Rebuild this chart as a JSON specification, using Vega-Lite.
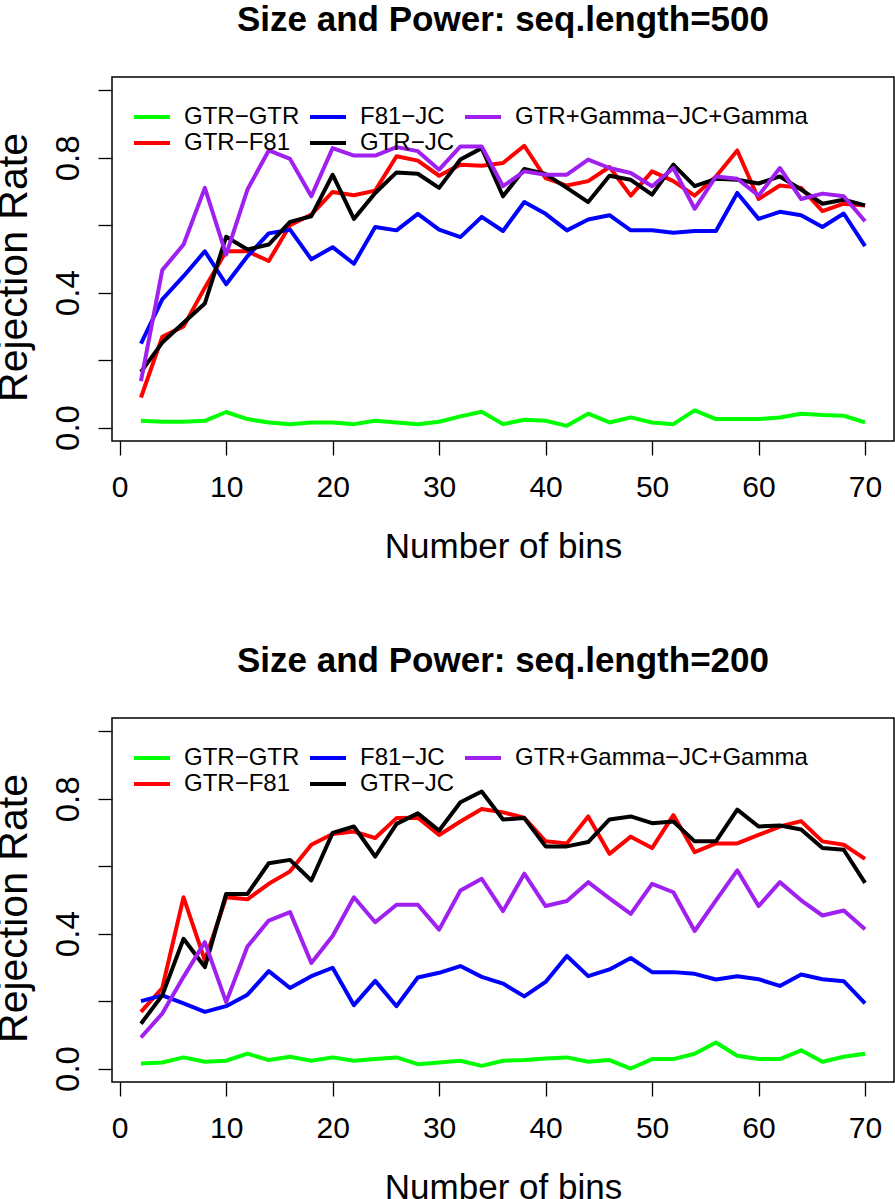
{
  "$schema": "https://vega.github.io/schema/vega-lite/v6.json",
  "padding": {"left": -8, "top": 2, "right": 0, "bottom": 0},
  "background": "white",
  "config": {
    "font": "Liberation Sans",
    "view": {"stroke": "#000", "strokeWidth": 1.5},
    "axis": {"domain": false, "grid": false, "ticks": true, "tickColor": "#000", "tickWidth": 1.3, "tickSize": 14, "labelColor": "#000", "titleColor": "#000", "labelFont": "Liberation Sans", "titleFont": "Liberation Sans", "titleFontWeight": "normal", "labelFlush": false, "labelOverlap": false},
    "legend": {"orient": "none", "legendX": 28, "legendY": 28, "columns": 3, "title": null, "symbolType": "M-2,0H2", "symbolSize": 324, "symbolStrokeWidth": 4, "labelFontSize": 24, "labelFont": "Liberation Sans", "labelColor": "#000", "labelOffset": 20, "columnPadding": 2, "rowPadding": 2, "padding": 0, "labelLimit": 0}
  },
  "datasets": {
    "s500": [
      {"bins":2,"model":"GTR−GTR","rate":0.02},{"bins":4,"model":"GTR−GTR","rate":0.017},{"bins":6,"model":"GTR−GTR","rate":0.017},{"bins":8,"model":"GTR−GTR","rate":0.02},{"bins":10,"model":"GTR−GTR","rate":0.046},{"bins":12,"model":"GTR−GTR","rate":0.025},{"bins":14,"model":"GTR−GTR","rate":0.015},{"bins":16,"model":"GTR−GTR","rate":0.01},{"bins":18,"model":"GTR−GTR","rate":0.015},{"bins":20,"model":"GTR−GTR","rate":0.015},{"bins":22,"model":"GTR−GTR","rate":0.01},{"bins":24,"model":"GTR−GTR","rate":0.02},{"bins":26,"model":"GTR−GTR","rate":0.015},{"bins":28,"model":"GTR−GTR","rate":0.01},{"bins":30,"model":"GTR−GTR","rate":0.017},{"bins":32,"model":"GTR−GTR","rate":0.033},{"bins":34,"model":"GTR−GTR","rate":0.047},{"bins":36,"model":"GTR−GTR","rate":0.01},{"bins":38,"model":"GTR−GTR","rate":0.023},{"bins":40,"model":"GTR−GTR","rate":0.02},{"bins":42,"model":"GTR−GTR","rate":0.005},{"bins":44,"model":"GTR−GTR","rate":0.041},{"bins":46,"model":"GTR−GTR","rate":0.015},{"bins":48,"model":"GTR−GTR","rate":0.03},{"bins":50,"model":"GTR−GTR","rate":0.015},{"bins":52,"model":"GTR−GTR","rate":0.01},{"bins":54,"model":"GTR−GTR","rate":0.051},{"bins":56,"model":"GTR−GTR","rate":0.025},{"bins":58,"model":"GTR−GTR","rate":0.025},{"bins":60,"model":"GTR−GTR","rate":0.025},{"bins":62,"model":"GTR−GTR","rate":0.03},{"bins":64,"model":"GTR−GTR","rate":0.041},{"bins":66,"model":"GTR−GTR","rate":0.037},{"bins":68,"model":"GTR−GTR","rate":0.035},{"bins":70,"model":"GTR−GTR","rate":0.015},
      {"bins":2,"model":"GTR−F81","rate":0.089},{"bins":4,"model":"GTR−F81","rate":0.269},{"bins":6,"model":"GTR−F81","rate":0.3},{"bins":8,"model":"GTR−F81","rate":0.415},{"bins":10,"model":"GTR−F81","rate":0.523},{"bins":12,"model":"GTR−F81","rate":0.523},{"bins":14,"model":"GTR−F81","rate":0.494},{"bins":16,"model":"GTR−F81","rate":0.6},{"bins":18,"model":"GTR−F81","rate":0.632},{"bins":20,"model":"GTR−F81","rate":0.699},{"bins":22,"model":"GTR−F81","rate":0.689},{"bins":24,"model":"GTR−F81","rate":0.703},{"bins":26,"model":"GTR−F81","rate":0.805},{"bins":28,"model":"GTR−F81","rate":0.792},{"bins":30,"model":"GTR−F81","rate":0.747},{"bins":32,"model":"GTR−F81","rate":0.78},{"bins":34,"model":"GTR−F81","rate":0.777},{"bins":36,"model":"GTR−F81","rate":0.785},{"bins":38,"model":"GTR−F81","rate":0.836},{"bins":40,"model":"GTR−F81","rate":0.74},{"bins":42,"model":"GTR−F81","rate":0.718},{"bins":44,"model":"GTR−F81","rate":0.731},{"bins":46,"model":"GTR−F81","rate":0.773},{"bins":48,"model":"GTR−F81","rate":0.688},{"bins":50,"model":"GTR−F81","rate":0.76},{"bins":52,"model":"GTR−F81","rate":0.731},{"bins":54,"model":"GTR−F81","rate":0.688},{"bins":56,"model":"GTR−F81","rate":0.745},{"bins":58,"model":"GTR−F81","rate":0.822},{"bins":60,"model":"GTR−F81","rate":0.678},{"bins":62,"model":"GTR−F81","rate":0.718},{"bins":64,"model":"GTR−F81","rate":0.711},{"bins":66,"model":"GTR−F81","rate":0.642},{"bins":68,"model":"GTR−F81","rate":0.664},{"bins":70,"model":"GTR−F81","rate":0.659},
      {"bins":2,"model":"F81−JC","rate":0.249},{"bins":4,"model":"F81−JC","rate":0.38},{"bins":6,"model":"F81−JC","rate":0.449},{"bins":8,"model":"F81−JC","rate":0.523},{"bins":10,"model":"F81−JC","rate":0.425},{"bins":12,"model":"F81−JC","rate":0.508},{"bins":14,"model":"F81−JC","rate":0.576},{"bins":16,"model":"F81−JC","rate":0.587},{"bins":18,"model":"F81−JC","rate":0.499},{"bins":20,"model":"F81−JC","rate":0.535},{"bins":22,"model":"F81−JC","rate":0.486},{"bins":24,"model":"F81−JC","rate":0.595},{"bins":26,"model":"F81−JC","rate":0.585},{"bins":28,"model":"F81−JC","rate":0.634},{"bins":30,"model":"F81−JC","rate":0.587},{"bins":32,"model":"F81−JC","rate":0.565},{"bins":34,"model":"F81−JC","rate":0.625},{"bins":36,"model":"F81−JC","rate":0.583},{"bins":38,"model":"F81−JC","rate":0.669},{"bins":40,"model":"F81−JC","rate":0.634},{"bins":42,"model":"F81−JC","rate":0.585},{"bins":44,"model":"F81−JC","rate":0.617},{"bins":46,"model":"F81−JC","rate":0.63},{"bins":48,"model":"F81−JC","rate":0.585},{"bins":50,"model":"F81−JC","rate":0.585},{"bins":52,"model":"F81−JC","rate":0.578},{"bins":54,"model":"F81−JC","rate":0.583},{"bins":56,"model":"F81−JC","rate":0.583},{"bins":58,"model":"F81−JC","rate":0.696},{"bins":60,"model":"F81−JC","rate":0.619},{"bins":62,"model":"F81−JC","rate":0.64},{"bins":64,"model":"F81−JC","rate":0.63},{"bins":66,"model":"F81−JC","rate":0.595},{"bins":68,"model":"F81−JC","rate":0.635},{"bins":70,"model":"F81−JC","rate":0.538},
      {"bins":2,"model":"GTR−JC","rate":0.165},{"bins":4,"model":"GTR−JC","rate":0.252},{"bins":6,"model":"GTR−JC","rate":0.311},{"bins":8,"model":"GTR−JC","rate":0.368},{"bins":10,"model":"GTR−JC","rate":0.566},{"bins":12,"model":"GTR−JC","rate":0.528},{"bins":14,"model":"GTR−JC","rate":0.543},{"bins":16,"model":"GTR−JC","rate":0.61},{"bins":18,"model":"GTR−JC","rate":0.627},{"bins":20,"model":"GTR−JC","rate":0.75},{"bins":22,"model":"GTR−JC","rate":0.619},{"bins":24,"model":"GTR−JC","rate":0.696},{"bins":26,"model":"GTR−JC","rate":0.757},{"bins":28,"model":"GTR−JC","rate":0.753},{"bins":30,"model":"GTR−JC","rate":0.711},{"bins":32,"model":"GTR−JC","rate":0.795},{"bins":34,"model":"GTR−JC","rate":0.829},{"bins":36,"model":"GTR−JC","rate":0.686},{"bins":38,"model":"GTR−JC","rate":0.767},{"bins":40,"model":"GTR−JC","rate":0.752},{"bins":42,"model":"GTR−JC","rate":0.711},{"bins":44,"model":"GTR−JC","rate":0.669},{"bins":46,"model":"GTR−JC","rate":0.747},{"bins":48,"model":"GTR−JC","rate":0.735},{"bins":50,"model":"GTR−JC","rate":0.691},{"bins":52,"model":"GTR−JC","rate":0.78},{"bins":54,"model":"GTR−JC","rate":0.716},{"bins":56,"model":"GTR−JC","rate":0.738},{"bins":58,"model":"GTR−JC","rate":0.735},{"bins":60,"model":"GTR−JC","rate":0.724},{"bins":62,"model":"GTR−JC","rate":0.745},{"bins":64,"model":"GTR−JC","rate":0.706},{"bins":66,"model":"GTR−JC","rate":0.664},{"bins":68,"model":"GTR−JC","rate":0.676},{"bins":70,"model":"GTR−JC","rate":0.659},
      {"bins":2,"model":"GTR+Gamma−JC+Gamma","rate":0.138},{"bins":4,"model":"GTR+Gamma−JC+Gamma","rate":0.467},{"bins":6,"model":"GTR+Gamma−JC+Gamma","rate":0.543},{"bins":8,"model":"GTR+Gamma−JC+Gamma","rate":0.711},{"bins":10,"model":"GTR+Gamma−JC+Gamma","rate":0.513},{"bins":12,"model":"GTR+Gamma−JC+Gamma","rate":0.706},{"bins":14,"model":"GTR+Gamma−JC+Gamma","rate":0.822},{"bins":16,"model":"GTR+Gamma−JC+Gamma","rate":0.797},{"bins":18,"model":"GTR+Gamma−JC+Gamma","rate":0.686},{"bins":20,"model":"GTR+Gamma−JC+Gamma","rate":0.829},{"bins":22,"model":"GTR+Gamma−JC+Gamma","rate":0.807},{"bins":24,"model":"GTR+Gamma−JC+Gamma","rate":0.807},{"bins":26,"model":"GTR+Gamma−JC+Gamma","rate":0.832},{"bins":28,"model":"GTR+Gamma−JC+Gamma","rate":0.82},{"bins":30,"model":"GTR+Gamma−JC+Gamma","rate":0.765},{"bins":32,"model":"GTR+Gamma−JC+Gamma","rate":0.834},{"bins":34,"model":"GTR+Gamma−JC+Gamma","rate":0.834},{"bins":36,"model":"GTR+Gamma−JC+Gamma","rate":0.716},{"bins":38,"model":"GTR+Gamma−JC+Gamma","rate":0.76},{"bins":40,"model":"GTR+Gamma−JC+Gamma","rate":0.75},{"bins":42,"model":"GTR+Gamma−JC+Gamma","rate":0.75},{"bins":44,"model":"GTR+Gamma−JC+Gamma","rate":0.795},{"bins":46,"model":"GTR+Gamma−JC+Gamma","rate":0.77},{"bins":48,"model":"GTR+Gamma−JC+Gamma","rate":0.755},{"bins":50,"model":"GTR+Gamma−JC+Gamma","rate":0.716},{"bins":52,"model":"GTR+Gamma−JC+Gamma","rate":0.77},{"bins":54,"model":"GTR+Gamma−JC+Gamma","rate":0.649},{"bins":56,"model":"GTR+Gamma−JC+Gamma","rate":0.745},{"bins":58,"model":"GTR+Gamma−JC+Gamma","rate":0.738},{"bins":60,"model":"GTR+Gamma−JC+Gamma","rate":0.688},{"bins":62,"model":"GTR+Gamma−JC+Gamma","rate":0.77},{"bins":64,"model":"GTR+Gamma−JC+Gamma","rate":0.678},{"bins":66,"model":"GTR+Gamma−JC+Gamma","rate":0.694},{"bins":68,"model":"GTR+Gamma−JC+Gamma","rate":0.686},{"bins":70,"model":"GTR+Gamma−JC+Gamma","rate":0.612}
    ],
    "s200": [
      {"bins":2,"model":"GTR−GTR","rate":0.015},{"bins":4,"model":"GTR−GTR","rate":0.018},{"bins":6,"model":"GTR−GTR","rate":0.033},{"bins":8,"model":"GTR−GTR","rate":0.02},{"bins":10,"model":"GTR−GTR","rate":0.023},{"bins":12,"model":"GTR−GTR","rate":0.044},{"bins":14,"model":"GTR−GTR","rate":0.025},{"bins":16,"model":"GTR−GTR","rate":0.035},{"bins":18,"model":"GTR−GTR","rate":0.023},{"bins":20,"model":"GTR−GTR","rate":0.033},{"bins":22,"model":"GTR−GTR","rate":0.023},{"bins":24,"model":"GTR−GTR","rate":0.028},{"bins":26,"model":"GTR−GTR","rate":0.033},{"bins":28,"model":"GTR−GTR","rate":0.013},{"bins":30,"model":"GTR−GTR","rate":0.018},{"bins":32,"model":"GTR−GTR","rate":0.023},{"bins":34,"model":"GTR−GTR","rate":0.008},{"bins":36,"model":"GTR−GTR","rate":0.023},{"bins":38,"model":"GTR−GTR","rate":0.025},{"bins":40,"model":"GTR−GTR","rate":0.03},{"bins":42,"model":"GTR−GTR","rate":0.033},{"bins":44,"model":"GTR−GTR","rate":0.02},{"bins":46,"model":"GTR−GTR","rate":0.025},{"bins":48,"model":"GTR−GTR","rate":0.0},{"bins":50,"model":"GTR−GTR","rate":0.028},{"bins":52,"model":"GTR−GTR","rate":0.028},{"bins":54,"model":"GTR−GTR","rate":0.044},{"bins":56,"model":"GTR−GTR","rate":0.077},{"bins":58,"model":"GTR−GTR","rate":0.038},{"bins":60,"model":"GTR−GTR","rate":0.028},{"bins":62,"model":"GTR−GTR","rate":0.028},{"bins":64,"model":"GTR−GTR","rate":0.054},{"bins":66,"model":"GTR−GTR","rate":0.02},{"bins":68,"model":"GTR−GTR","rate":0.035},{"bins":70,"model":"GTR−GTR","rate":0.044},
      {"bins":2,"model":"GTR−F81","rate":0.168},{"bins":4,"model":"GTR−F81","rate":0.239},{"bins":6,"model":"GTR−F81","rate":0.508},{"bins":8,"model":"GTR−F81","rate":0.321},{"bins":10,"model":"GTR−F81","rate":0.508},{"bins":12,"model":"GTR−F81","rate":0.502},{"bins":14,"model":"GTR−F81","rate":0.548},{"bins":16,"model":"GTR−F81","rate":0.585},{"bins":18,"model":"GTR−F81","rate":0.664},{"bins":20,"model":"GTR−F81","rate":0.696},{"bins":22,"model":"GTR−F81","rate":0.703},{"bins":24,"model":"GTR−F81","rate":0.684},{"bins":26,"model":"GTR−F81","rate":0.743},{"bins":28,"model":"GTR−F81","rate":0.744},{"bins":30,"model":"GTR−F81","rate":0.693},{"bins":32,"model":"GTR−F81","rate":0.733},{"bins":34,"model":"GTR−F81","rate":0.77},{"bins":36,"model":"GTR−F81","rate":0.76},{"bins":38,"model":"GTR−F81","rate":0.744},{"bins":40,"model":"GTR−F81","rate":0.674},{"bins":42,"model":"GTR−F81","rate":0.668},{"bins":44,"model":"GTR−F81","rate":0.748},{"bins":46,"model":"GTR−F81","rate":0.637},{"bins":48,"model":"GTR−F81","rate":0.688},{"bins":50,"model":"GTR−F81","rate":0.654},{"bins":52,"model":"GTR−F81","rate":0.752},{"bins":54,"model":"GTR−F81","rate":0.642},{"bins":56,"model":"GTR−F81","rate":0.668},{"bins":58,"model":"GTR−F81","rate":0.668},{"bins":60,"model":"GTR−F81","rate":0.693},{"bins":62,"model":"GTR−F81","rate":0.718},{"bins":64,"model":"GTR−F81","rate":0.734},{"bins":66,"model":"GTR−F81","rate":0.674},{"bins":68,"model":"GTR−F81","rate":0.664},{"bins":70,"model":"GTR−F81","rate":0.622},
      {"bins":2,"model":"F81−JC","rate":0.2},{"bins":4,"model":"F81−JC","rate":0.217},{"bins":6,"model":"F81−JC","rate":0.193},{"bins":8,"model":"F81−JC","rate":0.168},{"bins":10,"model":"F81−JC","rate":0.185},{"bins":12,"model":"F81−JC","rate":0.219},{"bins":14,"model":"F81−JC","rate":0.289},{"bins":16,"model":"F81−JC","rate":0.239},{"bins":18,"model":"F81−JC","rate":0.274},{"bins":20,"model":"F81−JC","rate":0.299},{"bins":22,"model":"F81−JC","rate":0.188},{"bins":24,"model":"F81−JC","rate":0.26},{"bins":26,"model":"F81−JC","rate":0.185},{"bins":28,"model":"F81−JC","rate":0.27},{"bins":30,"model":"F81−JC","rate":0.284},{"bins":32,"model":"F81−JC","rate":0.304},{"bins":34,"model":"F81−JC","rate":0.272},{"bins":36,"model":"F81−JC","rate":0.252},{"bins":38,"model":"F81−JC","rate":0.214},{"bins":40,"model":"F81−JC","rate":0.257},{"bins":42,"model":"F81−JC","rate":0.334},{"bins":44,"model":"F81−JC","rate":0.274},{"bins":46,"model":"F81−JC","rate":0.294},{"bins":48,"model":"F81−JC","rate":0.328},{"bins":50,"model":"F81−JC","rate":0.286},{"bins":52,"model":"F81−JC","rate":0.286},{"bins":54,"model":"F81−JC","rate":0.281},{"bins":56,"model":"F81−JC","rate":0.264},{"bins":58,"model":"F81−JC","rate":0.274},{"bins":60,"model":"F81−JC","rate":0.265},{"bins":62,"model":"F81−JC","rate":0.245},{"bins":64,"model":"F81−JC","rate":0.279},{"bins":66,"model":"F81−JC","rate":0.265},{"bins":68,"model":"F81−JC","rate":0.259},{"bins":70,"model":"F81−JC","rate":0.193},
      {"bins":2,"model":"GTR−JC","rate":0.133},{"bins":4,"model":"GTR−JC","rate":0.217},{"bins":6,"model":"GTR−JC","rate":0.385},{"bins":8,"model":"GTR−JC","rate":0.301},{"bins":10,"model":"GTR−JC","rate":0.518},{"bins":12,"model":"GTR−JC","rate":0.518},{"bins":14,"model":"GTR−JC","rate":0.609},{"bins":16,"model":"GTR−JC","rate":0.619},{"bins":18,"model":"GTR−JC","rate":0.558},{"bins":20,"model":"GTR−JC","rate":0.699},{"bins":22,"model":"GTR−JC","rate":0.718},{"bins":24,"model":"GTR−JC","rate":0.629},{"bins":26,"model":"GTR−JC","rate":0.726},{"bins":28,"model":"GTR−JC","rate":0.757},{"bins":30,"model":"GTR−JC","rate":0.706},{"bins":32,"model":"GTR−JC","rate":0.79},{"bins":34,"model":"GTR−JC","rate":0.822},{"bins":36,"model":"GTR−JC","rate":0.739},{"bins":38,"model":"GTR−JC","rate":0.743},{"bins":40,"model":"GTR−JC","rate":0.659},{"bins":42,"model":"GTR−JC","rate":0.659},{"bins":44,"model":"GTR−JC","rate":0.672},{"bins":46,"model":"GTR−JC","rate":0.739},{"bins":48,"model":"GTR−JC","rate":0.748},{"bins":50,"model":"GTR−JC","rate":0.728},{"bins":52,"model":"GTR−JC","rate":0.733},{"bins":54,"model":"GTR−JC","rate":0.674},{"bins":56,"model":"GTR−JC","rate":0.674},{"bins":58,"model":"GTR−JC","rate":0.768},{"bins":60,"model":"GTR−JC","rate":0.718},{"bins":62,"model":"GTR−JC","rate":0.721},{"bins":64,"model":"GTR−JC","rate":0.709},{"bins":66,"model":"GTR−JC","rate":0.654},{"bins":68,"model":"GTR−JC","rate":0.649},{"bins":70,"model":"GTR−JC","rate":0.551},
      {"bins":2,"model":"GTR+Gamma−JC+Gamma","rate":0.092},{"bins":4,"model":"GTR+Gamma−JC+Gamma","rate":0.163},{"bins":6,"model":"GTR+Gamma−JC+Gamma","rate":0.272},{"bins":8,"model":"GTR+Gamma−JC+Gamma","rate":0.375},{"bins":10,"model":"GTR+Gamma−JC+Gamma","rate":0.197},{"bins":12,"model":"GTR+Gamma−JC+Gamma","rate":0.362},{"bins":14,"model":"GTR+Gamma−JC+Gamma","rate":0.439},{"bins":16,"model":"GTR+Gamma−JC+Gamma","rate":0.464},{"bins":18,"model":"GTR+Gamma−JC+Gamma","rate":0.313},{"bins":20,"model":"GTR+Gamma−JC+Gamma","rate":0.393},{"bins":22,"model":"GTR+Gamma−JC+Gamma","rate":0.508},{"bins":24,"model":"GTR+Gamma−JC+Gamma","rate":0.434},{"bins":26,"model":"GTR+Gamma−JC+Gamma","rate":0.486},{"bins":28,"model":"GTR+Gamma−JC+Gamma","rate":0.486},{"bins":30,"model":"GTR+Gamma−JC+Gamma","rate":0.412},{"bins":32,"model":"GTR+Gamma−JC+Gamma","rate":0.528},{"bins":34,"model":"GTR+Gamma−JC+Gamma","rate":0.563},{"bins":36,"model":"GTR+Gamma−JC+Gamma","rate":0.467},{"bins":38,"model":"GTR+Gamma−JC+Gamma","rate":0.578},{"bins":40,"model":"GTR+Gamma−JC+Gamma","rate":0.482},{"bins":42,"model":"GTR+Gamma−JC+Gamma","rate":0.497},{"bins":44,"model":"GTR+Gamma−JC+Gamma","rate":0.553},{"bins":46,"model":"GTR+Gamma−JC+Gamma","rate":0.505},{"bins":48,"model":"GTR+Gamma−JC+Gamma","rate":0.459},{"bins":50,"model":"GTR+Gamma−JC+Gamma","rate":0.548},{"bins":52,"model":"GTR+Gamma−JC+Gamma","rate":0.523},{"bins":54,"model":"GTR+Gamma−JC+Gamma","rate":0.408},{"bins":56,"model":"GTR+Gamma−JC+Gamma","rate":0.499},{"bins":58,"model":"GTR+Gamma−JC+Gamma","rate":0.588},{"bins":60,"model":"GTR+Gamma−JC+Gamma","rate":0.482},{"bins":62,"model":"GTR+Gamma−JC+Gamma","rate":0.553},{"bins":64,"model":"GTR+Gamma−JC+Gamma","rate":0.499},{"bins":66,"model":"GTR+Gamma−JC+Gamma","rate":0.454},{"bins":68,"model":"GTR+Gamma−JC+Gamma","rate":0.469},{"bins":70,"model":"GTR+Gamma−JC+Gamma","rate":0.413}
    ]
  },
  "spacing": 78,
  "resolve": {"scale": {"color": "independent"}, "legend": {"color": "independent"}},
  "vconcat": [
    {
      "width": 782, "height": 364,
      "title": {"text": "Size and Power: seq.length=500", "fontSize": 35, "fontWeight": "bold", "font": "Liberation Sans", "color": "#000", "baseline": "alphabetic", "offset": 11, "anchor": "middle", "frame": "group"},
      "data": {"name": "s500"},
      "mark": {"type": "line", "strokeWidth": 4, "strokeJoin": "round"},
      "encoding": {
        "x": {"field": "bins", "type": "quantitative", "scale": {"domain": [-0.72, 72.72], "nice": false, "zero": false},
              "axis": {"values": [0,10,20,30,40,50,60,70], "labelFontSize": 30, "labelBaseline": "alphabetic", "labelPadding": 41, "title": "Number of bins", "titleFontSize": 35, "titleBaseline": "alphabetic", "titleY": 116}},
        "y": {"field": "rate", "type": "quantitative", "scale": {"domain": [-0.04, 1.04], "nice": false, "zero": false},
              "axis": {"values": [0,0.2,0.4,0.6,0.8,1], "labelExpr": "datum.value == 0 ? '0.0' : (abs(datum.value - 0.4) < 0.001 ? '0.4' : (abs(datum.value - 0.8) < 0.001 ? '0.8' : ''))", "labelAngle": -90, "labelAlign": "center", "labelBaseline": "alphabetic", "labelFontSize": 33, "labelPadding": 20, "title": "Rejection Rate", "titleFontSize": 41, "titleAngle": -90, "titleAlign": "center", "titleBaseline": "alphabetic", "titleX": -86, "titleY": 190}},
        "color": {"field": "model", "type": "nominal",
                  "scale": {"domain": ["GTR−GTR", "GTR−F81", "F81−JC", "GTR−JC", "GTR+Gamma−JC+Gamma"], "range": ["#00FF00", "#FF0000", "#0000FF", "#000000", "#A020F0"]},
                  "legend": {}}
      }
    },
    {
      "width": 782, "height": 364,
      "title": {"text": "Size and Power: seq.length=200", "fontSize": 35, "fontWeight": "bold", "font": "Liberation Sans", "color": "#000", "baseline": "alphabetic", "offset": 11, "anchor": "middle", "frame": "group"},
      "data": {"name": "s200"},
      "mark": {"type": "line", "strokeWidth": 4, "strokeJoin": "round"},
      "encoding": {
        "x": {"field": "bins", "type": "quantitative", "scale": {"domain": [-0.72, 72.72], "nice": false, "zero": false},
              "axis": {"values": [0,10,20,30,40,50,60,70], "labelFontSize": 30, "labelBaseline": "alphabetic", "labelPadding": 41, "title": "Number of bins", "titleFontSize": 35, "titleBaseline": "alphabetic", "titleY": 116}},
        "y": {"field": "rate", "type": "quantitative", "scale": {"domain": [-0.04, 1.04], "nice": false, "zero": false},
              "axis": {"values": [0,0.2,0.4,0.6,0.8,1], "labelExpr": "datum.value == 0 ? '0.0' : (abs(datum.value - 0.4) < 0.001 ? '0.4' : (abs(datum.value - 0.8) < 0.001 ? '0.8' : ''))", "labelAngle": -90, "labelAlign": "center", "labelBaseline": "alphabetic", "labelFontSize": 33, "labelPadding": 20, "title": "Rejection Rate", "titleFontSize": 41, "titleAngle": -90, "titleAlign": "center", "titleBaseline": "alphabetic", "titleX": -86, "titleY": 190}},
        "color": {"field": "model", "type": "nominal",
                  "scale": {"domain": ["GTR−GTR", "GTR−F81", "F81−JC", "GTR−JC", "GTR+Gamma−JC+Gamma"], "range": ["#00FF00", "#FF0000", "#0000FF", "#000000", "#A020F0"]},
                  "legend": {}}
      }
    }
  ]
}
